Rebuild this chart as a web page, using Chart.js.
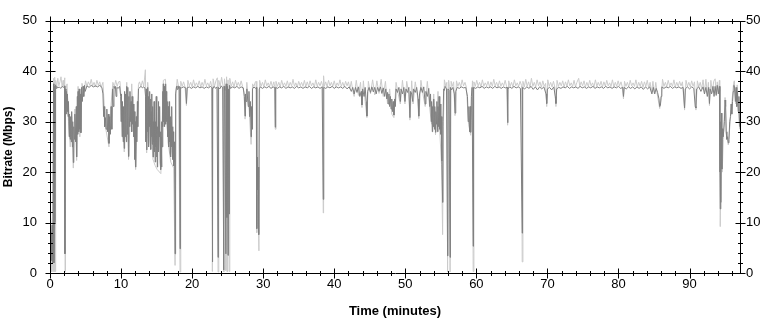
<!DOCTYPE html>
<html>
<head>
<meta charset="utf-8">
<title>Bitrate</title>
<script src="https://cdn.jsdelivr.net/npm/chart.js@4.4.1/dist/chart.umd.min.js"></script>
<style>
    html, body { margin: 0; padding: 0; background: #fff; }
    #wrap { width: 772px; height: 323px; position: relative; }
</style>
</head>
<body>
<div id="wrap"><canvas id="rateChart"></canvas></div>
<script>
// tick labels
const timeTicks = [0, 10, 20, 30, 40, 50, 60, 70, 80, 90];
const rateTicks = [0, 10, 20, 30, 40, 50];
const timeMax = 97.1;

// average bitrate, [minute, Mbps] (dark trace)
const avgRate = [
    [0,10],[0.05,4],[0.1,11],[0.15,2.5],[0.2,8],[0.25,3.5],[0.3,9.5],[0.35,2],[0.42,6],[0.5,37.5],[0.55,2],[0.62,37],[0.68,10],[0.72,26],[0.78,37.3],[0.85,36.6],[0.95,37.0],[1.1,36.7],[1.3,36.9],[1.5,36.6],[1.7,37.0],[1.9,36.8],[2.05,37.1],[2.1,3.8],[2.15,36.5],
    [2.25,31.5],[2.3,36],[2.4,32],[2.45,35.5],[2.55,31],[2.6,34],[2.7,27],[2.75,31.5],[2.85,26.5],[2.9,31],[3.0,26],[3.05,32],[3.15,25],[3.2,30],[3.28,21.9],[3.35,29],[3.45,26.5],[3.5,31.5],[3.6,26],[3.7,33],[3.75,23],[3.85,35],[3.9,27.5],[3.95,36],[4.05,28],[4.1,36.5],[4.2,28.5],[4.3,35.5],[4.35,27.8],[4.45,36.8],[4.55,34],[4.65,37],[4.75,35],[4.85,37.2],[4.95,36],
    [5.2,37.1],[5.5,36.8],[5.8,37.2],[6.1,36.9],[6.4,37.1],[6.7,36.9],[7.0,37.2],[7.3,36.8],[7.45,35.5],
    [7.55,31],[7.6,33],[7.7,29],[7.8,30.8],[7.9,28.5],[8.0,32.5],[8.1,28],[8.2,31.5],[8.3,25.7],[8.4,31],[8.5,27.5],[8.6,33],[8.7,28.5],[8.8,36.5],[8.9,33],[9.0,37],[9.1,36.6],[9.2,37],[9.3,35],[9.4,36.8],[9.6,36.6],[9.8,37],
    [9.95,35],[10.0,30],[10.05,35.5],[10.15,27],[10.2,34],[10.3,26],[10.35,33],[10.45,24.7],[10.5,36],[10.6,27],[10.65,35.5],[10.75,26],[10.8,37],[10.9,27.5],[10.95,36.8],[11.05,23.1],[11.1,35],[11.2,29],[11.25,36],[11.35,30],[11.4,34],[11.5,28],[11.55,35],[11.65,29.5],[11.7,33.5],[11.8,27],[11.85,32],[11.95,22.5],[12.0,30],[12.05,21],[12.15,31],[12.2,26],[12.3,34],[12.35,29],[12.45,36.5],
    [12.6,36.7],[12.8,37],[13.0,36.7],[13.2,36.9],[13.35,36.7],
    [13.45,35],[13.5,26],[13.55,36.5],[13.6,24.4],[13.65,34],[13.7,28],[13.75,36.8],[13.8,27],[13.85,35],[13.9,25],[13.95,33],[14.0,29],[14.05,36],[14.1,26],[14.15,34.5],[14.2,24.5],[14.25,32],[14.3,27],[14.35,35.5],[14.4,25.5],[14.45,33],[14.5,23],[14.55,30],[14.6,26],[14.65,34],[14.7,24],[14.75,31],[14.8,22],[14.85,30],[14.9,25],[14.95,35],
    [15.0,23],[15.05,32],[15.1,21],[15.15,29],[15.2,26],[15.25,34],[15.3,24],[15.35,30],[15.4,27],[15.45,33],[15.5,22],[15.55,28],[15.6,20.5],[15.65,27],[15.7,21],[15.75,30],[15.8,25],[15.85,36],[15.9,29],[15.95,37.5],[16.0,30],[16.05,37],[16.1,29],[16.15,36.5],[16.2,31],[16.25,37.5],[16.3,29.5],[16.35,36],[16.4,30],[16.45,35],[16.5,29],[16.55,34],[16.6,27],[16.65,33],[16.7,25],[16.75,32],[16.8,26],[16.85,34],[16.9,24],[16.95,31],
    [17.0,23],[17.05,30],[17.1,25],[17.15,33],[17.2,24],[17.25,29],[17.3,22.5],[17.35,28],[17.4,21.2],[17.45,26],[17.5,22],[17.55,24],[17.6,3.8],[17.65,30],[17.7,35.5],[17.8,37],[17.9,36.4],[18.0,37.1],[18.1,36.6],[18.2,37],[18.3,4.8],[18.35,36.8],
    [18.5,36.7],[18.8,36.9],[19.1,36.7],[19.2,33.6],[19.3,36.7],[19.6,36.9],[19.9,36.6],[20.2,36.9],[20.5,36.7],[20.8,37.0],[21.1,36.7],[21.4,36.9],[21.7,36.6],[22.0,36.9],[22.3,36.7],[22.6,37.0],[22.8,36.7],
    [22.85,2.2],[22.9,36.5],[23.1,37.0],[23.3,36.6],[23.5,36.9],[23.65,3.1],[23.7,36.8],[23.9,36.5],[24.1,37.1],[24.3,36.7],[24.45,0.6],[24.5,37],[24.6,36.2],[24.75,3.8],[24.8,37.5],[24.9,11],[24.95,37],[25.05,3.5],[25.1,36.5],[25.2,11.7],[25.25,37.2],[25.4,36.6],[25.7,36.9],[26.0,36.7],[26.3,37.0],[26.6,36.6],[26.9,36.9],[27.2,36.7],
    [27.35,35],[27.45,31.1],[27.5,35.5],[27.6,34],[27.7,36.5],[27.9,33],[28.0,36],[28.1,31],[28.2,34],[28.3,27],[28.35,33],[28.45,28.5],[28.5,36.5],[28.7,36.9],[28.9,36.6],[29.05,36.8],[29.1,8.8],[29.13,23],[29.17,18],[29.2,22],[29.25,16.5],[29.3,21],[29.35,19],[29.4,7.6],[29.45,36.5],[29.6,36.9],[29.9,36.6],
    [30.2,36.9],[30.5,36.7],[30.8,37.0],[31.1,36.6],[31.4,36.9],[31.65,36.7],[31.7,28.9],[31.75,36.8],[32.0,36.6],[32.3,36.9],[32.6,36.7],[32.9,37.0],[33.2,36.6],[33.5,36.9],[33.8,36.7],[34.1,36.9],[34.4,36.6],[34.7,37.0],[35.0,36.7],[35.3,36.9],[35.6,36.6],[35.9,36.9],[36.2,36.7],[36.5,37.0],[36.8,36.6],[37.1,36.9],[37.4,36.7],[37.7,36.9],[38.0,36.6],[38.3,36.9],[38.45,14.6],[38.5,22],[38.55,36.8],[38.8,36.6],[39.1,36.9],
    [39.4,36.7],[39.7,37.0],[40.0,36.6],[40.3,36.9],[40.6,36.7],[40.9,36.9],[41.2,36.6],[41.5,37.0],[41.8,36.5],[42.1,36.9],[42.4,36],[42.6,36.8],[42.8,35.5],[43.0,36.8],[43.2,35.8],[43.4,36.9],[43.6,35],[43.8,36],[43.9,33.3],[44.0,36.5],[44.2,35],[44.35,36.8],[44.5,34],[44.6,31.1],[44.7,36],[44.9,36.8],
    [45.1,35.8],[45.3,36.9],[45.5,35.9],[45.7,36.8],[45.9,35.5],[46.1,36.8],[46.3,36],[46.5,36.9],[46.7,35.6],[46.9,36.7],[47.1,35],[47.25,36.5],[47.4,34.5],[47.5,35.8],[47.6,33.5],[47.7,35.5],[47.8,33],[47.9,35],[48.0,32.5],[48.1,34.5],[48.2,32],[48.3,34],[48.4,31.3],[48.5,34.5],[48.6,33],[48.7,36.5],[48.9,35.8],[49.1,36.8],[49.3,34],[49.4,36.5],[49.6,35.5],[49.8,36.8],[49.95,34],
    [50.1,36.5],[50.3,35.8],[50.5,36.8],[50.65,30.8],[50.75,36],[50.9,35.5],[51.05,34],[51.15,36.5],[51.4,35.8],[51.6,36.8],[51.8,34.5],[51.9,31.1],[52.0,35.5],[52.2,36.8],[52.4,35.8],[52.6,36.9],[52.8,33.5],[52.9,36],[53.1,35],[53.3,36.6],[53.45,33],[53.55,35.5],[53.65,30],[53.7,34],[53.8,28],[53.85,33],[53.95,29],
    [54.0,34.5],[54.1,28.5],[54.15,33],[54.25,27.9],[54.3,32],[54.4,29.5],[54.45,34],[54.55,28],[54.6,33],[54.7,29],[54.75,35],[54.85,28.5],[54.9,33.5],[55.0,27.5],[55.05,31],[55.15,22.2],[55.25,14],[55.3,30],[55.4,36.5],[55.5,36.2],[55.6,37],[55.8,36.5],[55.95,3.4],[56.0,36.5],[56.15,36.2],[56.3,3.1],[56.35,36.8],[56.5,36.3],[56.7,36.8],[56.9,35.5],[57.0,31.7],[57.1,36],[57.3,36.8],[57.6,36.6],[57.9,36.9],
    [58.2,36.7],[58.5,36.8],[58.75,35],[58.85,30],[58.95,33],[59.05,28],[59.15,33],[59.2,27.9],[59.3,35],[59.4,36.8],[59.55,5.3],[59.6,36.8],[59.9,36.6],
    [60.2,36.9],[60.5,36.7],[60.8,37.0],[61.1,36.6],[61.4,36.9],[61.7,36.7],[62.0,36.9],[62.3,36.6],[62.6,37.0],[62.9,36.7],[63.2,36.9],[63.5,36.6],[63.8,36.9],[64.1,36.7],[64.35,36.8],[64.4,29.8],[64.45,36.5],[64.7,36.9],[65.0,36.6],[65.3,37.0],[65.6,36.7],[65.9,36.9],[66.2,36.6],[66.45,7.9],[66.5,36.8],[66.8,36.5],
    [67.1,36.9],[67.4,36.6],[67.7,37.0],[68.0,36.4],[68.3,36.9],[68.6,36.3],[68.9,36.9],[69.2,36.5],[69.5,36.9],[69.8,35.5],[69.9,33.6],[70.0,36.5],[70.3,36.8],[70.6,36.3],[70.9,36.9],[71.1,35],[71.2,33.6],[71.3,36.5],[71.6,36.8],[71.9,36.6],[72.2,36.9],[72.5,36.7],[72.8,37.0],[73.1,36.6],[73.4,36.9],[73.7,36.7],[74.0,36.9],[74.3,36.6],[74.6,37.0],[74.9,36.7],
    [75.2,36.9],[75.5,36.6],[75.8,36.9],[76.1,36.7],[76.4,37.0],[76.7,36.6],[77.0,36.9],[77.3,36.7],[77.6,36.9],[77.9,36.6],[78.2,37.0],[78.5,36.7],[78.8,36.9],[79.1,36.6],[79.4,36.9],[79.7,36.7],[80.0,37.0],[80.3,36.6],[80.6,36.8],[80.7,35],[80.8,36.8],[81.1,36.5],[81.4,36.9],[81.7,36.6],[82.0,36.9],[82.3,36.5],[82.6,36.9],[82.9,36.6],[83.2,36.9],[83.5,36.4],[83.8,36.9],[84.1,36.5],[84.4,36.9],[84.7,35.5],[84.9,36.8],
    [85.1,35.5],[85.3,36.6],[85.5,35.8],[85.7,34.5],[85.8,33],[85.9,33.2],[86.0,35],[86.1,36.9],[86.4,36.6],[86.7,36.9],[87.0,36.7],[87.3,37.0],[87.6,36.6],[87.9,36.9],[88.2,36.7],[88.5,36.9],[88.8,36.6],[89.1,36.8],[89.3,32.7],[89.4,36.5],[89.7,36.9],[90.0,36.5],[90.3,36.9],[90.6,36.6],[90.8,33],[90.9,32.7],[91.0,36.5],[91.3,36.9],[91.6,36],[91.9,36.9],
    [92.1,35.5],[92.3,36.8],[92.5,35],[92.7,36.8],[92.8,33.6],[92.9,36.5],[93.1,35.5],[93.3,37],[93.45,35],[93.6,37],[93.75,35.2],[93.9,37.2],[94.05,35.5],[94.2,37],
    [94.28,20],[94.32,12.7],[94.38,30],[94.42,14],[94.48,31.7],[94.55,20.6],[94.62,28.6],[94.7,27],[94.8,28],[94.9,30],[95.0,34.3],[95.08,33],[95.15,28],[95.25,26.5],[95.35,27],[95.45,25.8],[95.55,26.5],[95.65,30],[95.75,31],[95.85,33.5],[95.95,31.5],[96.05,34],[96.15,36],[96.25,37.2],[96.35,36.5],[96.45,34],[96.55,36.8],[96.65,33],[96.75,36],[96.85,32],[96.95,35],[97.05,29]
];

// peak / min excursions, [minute, Mbps] (light trace)
const peakRate = [
    [0,12],[0.08,0.3],[0.15,7],[0.25,0.2],[0.35,5],[0.45,0.3],[0.52,38.6],[0.58,0.3],[0.66,38.8],[0.72,0.3],[0.8,38.2],[0.95,37.0],[1.1,38.6],[1.25,37.1],[1.4,37.9],[1.55,38.9],[1.7,37.0],[1.85,38.2],[1.95,37.1],[2.08,38.7],[2.12,0.3],[2.18,36],
    [2.4,37.5],[2.6,30],[2.85,25],[3.05,31],[3.28,20.8],[3.5,32.5],[3.75,22.3],[3.95,37],[4.2,27],[4.5,37.6],[4.8,35.8],
    [5.0,38.1],[5.2,37.0],[5.4,37.9],[5.6,37.2],[5.8,38.4],[6.0,37.1],[6.2,37.8],[6.4,36.9],[6.6,38.2],[6.8,37.2],[7.0,37.9],[7.2,36.8],[7.45,37.8],
    [7.8,29],[8.3,25],[8.6,33.5],[8.85,37.8],[9.05,36.9],[9.25,38.2],[9.45,37.0],[9.65,37.9],[9.85,38.0],[10.45,24],[10.8,37.8],[11.05,22.5],[11.5,37.5],[12.05,20.5],[12.45,37.4],
    [12.6,37.9],[12.8,36.9],[13.0,38.1],[13.2,37.0],[13.42,40.3],[13.6,23.8],[13.75,37.8],
    [14.5,22.5],[14.8,21.3],[15.1,20.5],[15.6,19.7],[15.95,38.2],[16.25,38.4],[16.6,26],[17.0,22],[17.4,20.8],[17.6,1.5],[17.75,36],[17.9,38.4],[18.1,36.9],[18.3,0.2],
    [18.4,38],[18.6,37.0],[18.8,37.9],[19.0,36.9],[19.2,33.2],[19.4,38.2],[19.6,37.1],[19.8,37.8],[20.0,36.9],[20.2,38.3],[20.4,37.0],[20.6,37.7],[20.8,37.1],[21.0,38.1],[21.2,36.9],[21.4,37.8],[21.6,37.0],[21.8,38.4],[22.0,37.1],[22.2,37.7],[22.4,36.9],[22.6,38.0],[22.75,37.0],
    [22.85,0.3],[22.95,38.5],[23.15,37.0],[23.35,38.1],[23.55,38.7],[23.65,0.2],[23.75,38.2],[23.95,37.0],[24.15,38.8],[24.35,37.1],[24.45,0.2],[24.55,38.5],[24.65,37.2],[24.75,0.5],[24.85,38.9],[24.95,0.2],[25.05,38.3],[25.2,0.3],[25.3,38.6],
    [25.5,37.0],[25.7,37.9],[25.9,36.9],[26.1,38.2],[26.3,37.1],[26.5,37.8],[26.7,37.0],[26.9,38.1],[27.1,37.0],[27.3,35.8],[27.45,30.5],[27.7,37.8],[28.0,33],[28.3,25.5],[28.5,37.5],[28.7,37.0],[28.9,37.9],[29.0,38],[29.1,8],[29.25,15.5],[29.4,4.4],
    [29.5,38.2],[29.7,37.0],[29.9,37.8],[30.1,36.9],[30.3,38.3],[30.5,37.1],[30.7,37.7],[30.9,37.0],[31.1,38.0],[31.3,36.9],[31.5,37.9],[31.6,37.0],[31.7,28.5],[31.8,38],[32.0,37.0],[32.2,37.8],[32.4,36.9],[32.6,38.2],[32.8,37.1],[33.0,37.7],[33.2,37.0],[33.4,38.1],[33.6,36.9],[33.8,37.8],
    [34.0,37.1],[34.2,38.4],[34.4,37.0],[34.6,37.7],[34.8,36.9],[35.0,38.0],[35.2,37.1],[35.4,37.8],[35.6,37.0],[35.8,38.2],[36.0,36.9],[36.2,37.9],[36.4,37.0],[36.6,38.1],[36.8,37.1],[37.0,37.7],[37.2,36.9],[37.4,38.3],[37.6,37.0],[37.8,37.8],[38.0,37.1],[38.2,38.0],[38.35,37.2],
    [38.45,11.9],[38.5,39.1],[38.6,37.0],[38.8,37.9],[39.0,36.9],[39.2,38.2],[39.4,37.1],[39.6,37.8],[39.8,37.0],[40.0,38.1],[40.2,36.9],[40.4,37.7],[40.6,37.1],[40.8,38.3],[41.0,37.0],[41.2,37.8],[41.4,36.9],[41.6,38.0],[41.8,37.1],[42.0,37.9],[42.2,36.5],[42.4,38.0],
    [42.6,36.2],[42.8,35],[43.1,38.2],[43.4,35.2],[43.7,37.8],[43.9,32.8],[44.1,38.1],[44.35,34],[44.6,30.8],[44.8,38],
    [45.1,35.5],[45.4,38.3],[45.7,35.3],[46.0,38.1],[46.3,35.6],[46.6,38.4],[46.9,35],[47.2,38],[47.5,33.5],[47.8,36.5],[48.1,31.5],[48.4,30.8],[48.7,37.8],[49.0,35.5],[49.3,33.5],[49.6,38.2],[49.95,33.5],
    [50.2,38],[50.5,35.4],[50.65,30.3],[50.9,38.1],[51.1,33.5],[51.4,37.9],[51.7,35.2],[51.9,30.6],[52.2,38.2],[52.5,35.3],[52.8,33],[53.1,38],[53.45,32.5],[53.7,29.5],[54.0,35.5],[54.25,27.4],[54.6,36],[54.85,28],
    [55.1,21.5],[55.25,7.6],[55.35,29],[55.5,38.3],[55.7,37.0],[55.85,37.8],[55.95,0.2],[56.1,38.2],[56.2,37.0],[56.3,0.2],[56.45,38],[56.6,37.0],[56.8,37.9],[57.0,31.2],[57.2,38.1],[57.4,37.0],[57.6,37.8],[57.8,36.9],[58.0,38.3],[58.2,37.1],[58.4,37.8],[58.6,36.8],[58.9,29.5],[59.2,27.3],[59.45,38.1],[59.55,0.3],[59.65,37.9],[59.85,37.0],
    [60.05,38.2],[60.25,37.1],[60.45,37.8],[60.65,36.9],[60.85,38.3],[61.05,37.0],[61.25,37.7],[61.45,37.1],[61.65,38.0],[61.85,36.9],[62.05,37.9],[62.25,37.0],[62.45,38.4],[62.65,37.1],[62.85,37.8],[63.05,36.9],[63.25,38.1],[63.45,37.0],[63.65,37.7],[63.85,37.1],[64.05,38.2],[64.25,37.0],[64.4,29.3],[64.55,38.1],[64.75,37.0],[64.95,37.8],
    [65.15,36.9],[65.35,38.3],[65.55,37.1],[65.75,37.7],[65.95,37.0],[66.15,38.0],[66.35,37.2],[66.45,2.2],[66.55,38],[66.75,36.9],[66.95,38.4],[67.15,37.0],[67.35,37.9],[67.55,36.8],[67.75,38.6],[67.95,37.0],[68.15,37.8],[68.35,36.9],[68.55,38.3],[68.75,37.1],[68.95,37.9],[69.15,36.8],[69.35,38.1],[69.55,37.0],[69.75,37.6],[69.9,33],
    [70.05,38.3],[70.25,37.0],[70.45,37.8],[70.65,36.9],[70.85,38.0],[71.05,36.8],[71.2,33],[71.35,38.2],[71.55,37.0],[71.75,37.8],[71.95,37.1],[72.15,38.1],[72.35,36.9],[72.55,37.9],[72.75,37.0],[72.95,38.3],[73.15,37.1],[73.35,37.7],[73.55,37.0],[73.75,38.2],[73.95,36.9],[74.15,37.8],[74.4,38.6],[74.55,37.0],[74.75,37.9],[74.95,37.1],
    [75.15,38.1],[75.35,36.9],[75.55,37.8],[75.75,37.0],[75.95,38.2],[76.15,37.1],[76.35,37.7],[76.55,36.9],[76.75,38.3],[76.95,37.0],[77.15,37.8],[77.35,37.1],[77.55,38.0],[77.75,36.9],[77.95,37.9],[78.15,37.0],[78.35,38.2],[78.55,37.1],[78.75,37.7],[78.95,37.0],[79.15,38.3],[79.35,36.9],[79.55,37.8],[79.75,37.0],[79.95,38.1],
    [80.15,37.1],[80.35,37.9],[80.55,36.8],[80.7,34.5],[80.85,38],[81.05,37.0],[81.25,37.8],[81.45,36.9],[81.65,38.2],[81.85,37.1],[82.05,37.7],[82.25,37.0],[82.45,38.3],[82.65,36.9],[82.85,37.8],[83.05,37.0],[83.25,38.0],[83.45,36.8],[83.65,37.9],[83.85,37.0],[84.05,38.2],[84.25,36.7],[84.45,37.8],[84.65,35.8],[84.85,38.0],
    [85.05,35.6],[85.25,37.8],[85.45,35.5],[85.8,32.6],[86.0,34.5],[86.2,38.4],[86.4,37.0],[86.6,37.8],[86.8,36.9],[87.0,38.2],[87.2,37.1],[87.4,37.7],[87.6,37.0],[87.8,38.3],[88.0,36.9],[88.2,37.8],[88.4,37.0],[88.6,38.0],[88.8,37.1],[89.0,37.9],[89.3,32.3],[89.5,38.2],[89.7,37.0],[89.9,37.8],
    [90.1,36.9],[90.3,38.1],[90.5,37.0],[90.7,37.9],[90.9,32.3],[91.1,38.1],[91.3,36.9],[91.5,37.8],[91.7,36.5],[91.9,38.3],[92.1,35.8],[92.3,38.4],[92.5,35.5],[92.65,37.8],[92.8,33.2],[93.0,38.2],[93.2,35.8],[93.4,38.0],[93.6,38.5],[93.75,35.5],[93.9,37.9],[94.05,35.8],[94.2,38.2],[94.25,36],
    [94.32,9.2],[94.45,28],[94.6,20],[94.75,26.5],[95.0,34.8],[95.2,27.5],[95.45,25.4],[95.7,29.5],[95.9,33],[96.2,37.6],[96.3,38.1],[96.5,33.5],[96.7,37.3],[96.9,31.5],[97.05,28.5]
];

const toXY = pts => pts.map(([t, v]) => ({ x: t, y: v }));

// frame round the plot plus major/minor tick marks crossing it
const frameTicks = {
    id: 'frameTicks',
    afterDatasetsDraw(chart) {
        const { ctx, chartArea: a, scales: { x, y } } = chart;
        const L = Math.round(a.left) + 0.5, R = Math.round(a.right) + 0.5;
        const T = Math.round(a.top) + 0.5, B = Math.round(a.bottom) + 0.5;
        ctx.save();
        ctx.strokeStyle = '#000';
        ctx.lineWidth = 1;
        ctx.beginPath();
        ctx.rect(L, T, R - L, B - T);
        for (let v = 0; v <= 50; v += 2) {
            const py = Math.round(y.getPixelForValue(v)) + 0.5;
            const len = v % 10 === 0 ? 5 : 2.5;
            ctx.moveTo(L - len, py); ctx.lineTo(L + len, py);
            ctx.moveTo(R - len, py); ctx.lineTo(R + len, py);
        }
        for (let t = 0; t <= timeMax; t += 2) {
            const px = Math.round(x.getPixelForValue(t)) + 0.5;
            const len = t % 10 === 0 ? 5 : 2.5;
            ctx.moveTo(px, B - len); ctx.lineTo(px, B + len);
            ctx.moveTo(px, T - len); ctx.lineTo(px, T + len);
        }
        ctx.stroke();
        ctx.restore();
    }
};

const font = { family: '"Liberation Sans", Arial, sans-serif', size: 12 };
const noGrid = { display: false, drawTicks: false };

new Chart(document.getElementById('rateChart'), {
    type: 'line',
    data: {
        datasets: [
            {
                label: 'Average',
                data: toXY(avgRate),
                borderColor: '#808080',
                borderWidth: 1,
                pointRadius: 0,
                tension: 0
            },
            {
                label: 'Peak',
                data: toXY(peakRate),
                borderColor: '#cbcbcb',
                borderWidth: 1,
                pointRadius: 0,
                tension: 0
            }
        ]
    },
    options: {
        responsive: true,
        maintainAspectRatio: false,
        animation: false,
        events: [],
        layout: { padding: { top: 11, left: 0, right: 0, bottom: 0 } },
        plugins: { legend: { display: false }, tooltip: { enabled: false } },
        scales: {
            x: {
                type: 'linear',
                min: 0,
                max: timeMax,
                grid: noGrid,
                border: { display: false },
                afterBuildTicks: s => { s.ticks = timeTicks.map(v => ({ value: v })); },
                afterFit: s => { s.height = 50; },
                ticks: { color: '#000', font: { ...font, size: 13 }, padding: 4, maxRotation: 0, autoSkip: false },
                title: { display: true, text: 'Time (minutes)', color: '#000', font: { ...font, size: 13, weight: 'bold' }, padding: { top: 0, bottom: 4 } }
            },
            y: {
                position: 'left',
                min: 0,
                max: 50,
                grid: noGrid,
                border: { display: false },
                afterBuildTicks: s => { s.ticks = rateTicks.map(v => ({ value: v })); },
                afterFit: s => { s.width = 50; },
                ticks: { color: '#000', font: { ...font, size: 13 }, padding: 13 },
                title: { display: true, text: 'Bitrate (Mbps)', color: '#000', font: { ...font, weight: 'bold' }, padding: { top: 1, bottom: 0 } }
            },
            y2: {
                position: 'right',
                min: 0,
                max: 50,
                grid: noGrid,
                border: { display: false },
                afterBuildTicks: s => { s.ticks = rateTicks.map(v => ({ value: v })); },
                afterFit: s => { s.width = 32; },
                ticks: { color: '#000', font: { ...font, size: 13 }, padding: 6 }
            }
        }
    },
    plugins: [frameTicks]
});
</script>
</body>
</html>
